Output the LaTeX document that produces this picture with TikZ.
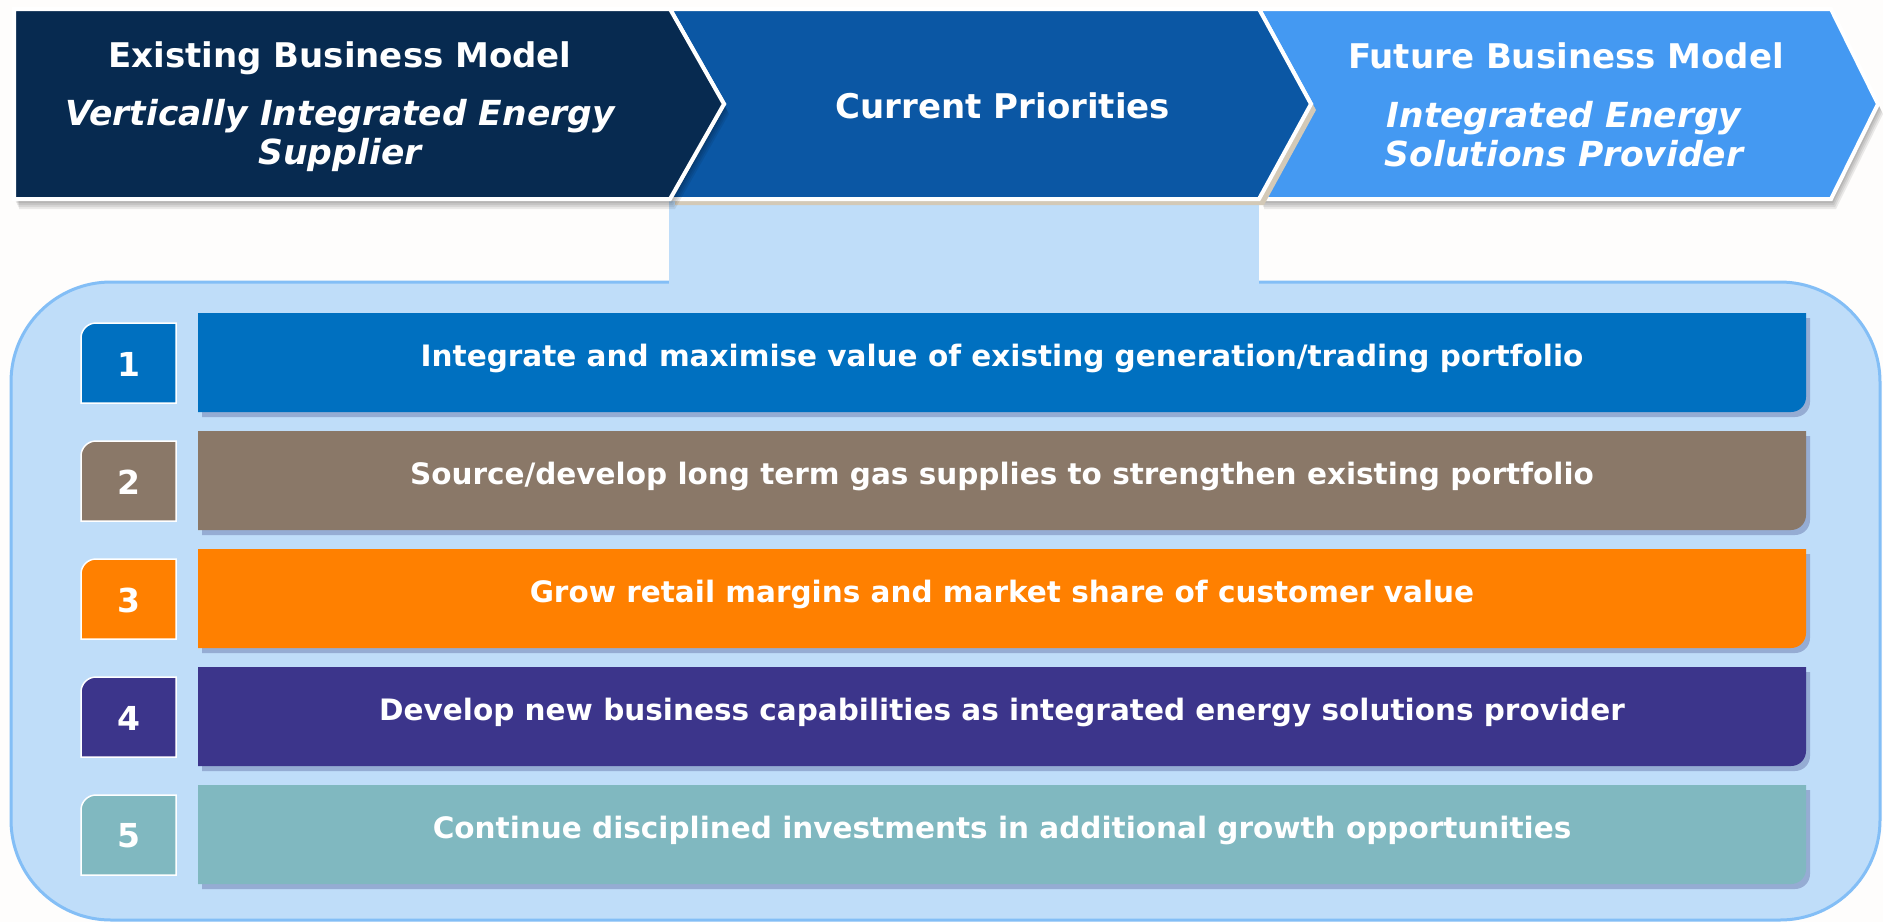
\documentclass[tikz,border=0pt]{standalone}
\usepackage{fontspec}
\setmainfont{DejaVu Sans}
\usetikzlibrary{shadows}

\definecolor{navy}{HTML}{072A50}
\definecolor{midblue}{HTML}{0B57A4}
\definecolor{skyblue}{HTML}{4499F2}
\definecolor{panel}{HTML}{BFDDF9}
\definecolor{panelline}{HTML}{83BEF6}
\definecolor{tanedge}{HTML}{D3C9B7}
\definecolor{pone}{HTML}{0070C0}
\definecolor{ptwo}{HTML}{8A7868}
\definecolor{pthree}{HTML}{FF8000}
\definecolor{pfour}{HTML}{3C358B}
\definecolor{pfive}{HTML}{80B8C0}
\definecolor{paper}{HTML}{FEFDFC}

\begin{document}
\begin{tikzpicture}[x=1pt, y=-1pt,
    chev/.style = {draw=white, line width=4pt},
    fade/.style = {fill=black, opacity=0.08},
    head/.style = {text=white, font=\bfseries\fontsize{34}{40}\selectfont},
    sub/.style = {text=white, align=center, font=\bfseries\itshape\fontsize{34.5}{39}\selectfont},
    bartext/.style = {text=white, font=\bfseries\fontsize{29.5}{34}\selectfont},
    numtext/.style = {text=white, font=\bfseries\fontsize{33}{40}\selectfont},
    barshadow/.style = {drop shadow={shadow xshift=4pt, shadow yshift=-5pt, fill=black!70!blue, opacity=0.22}}]

    \fill[paper] (0,0) rectangle (1883,922);
    \useasboundingbox (0,0) rectangle (1883,922);

    % panel and tab
    \draw[panelline, fill=panel, line width=3pt, rounded corners=100pt] (11,282) rectangle (1880,920);
    \fill[panel] (669,196) rectangle (1259,292);

    % chevron 3
    \foreach \d in {2,4,6,8,10}
        \fill[fade, shift={(\d/2,\d)}] (1259,9) -- (1831,9) -- (1878,104) -- (1831,199) -- (1259,199) -- cycle;
    \draw[chev, fill=skyblue] (1259,9) -- (1831,9) -- (1878,104) -- (1831,199) -- (1259,199) -- (1311,104) -- cycle;

    % chevron 2
    \fill[tanedge, shift={(5,6)}] (670,9) -- (1259,9) -- (1311,104) -- (1259,199) -- (670,199) -- cycle;
    \draw[chev, fill=midblue] (670,9) -- (1259,9) -- (1311,104) -- (1259,199) -- (670,199) -- (724,104) -- cycle;

    % chevron 1
    \foreach \d in {2,4,6,8,10}
        \fill[fade, shift={(\d/2,\d)}] (14,9) -- (670,9) -- (724,104) -- (670,199) -- (14,199) -- cycle;
    \draw[chev, fill=navy] (14,9) -- (670,9) -- (724,104) -- (670,199) -- (14,199) -- cycle;

    \node[head] (existing) at (340,58) {Existing Business Model};
    \node[sub] (vertical) at (340,135) {Vertically Integrated Energy\\Supplier};
    \node[head] (current) at (1003,106) {Current Priorities};
    \node[head] (future) at (1566,56) {Future Business Model};
    \node[sub] (solutions) at (1564,134) {Integrated Energy\\Solutions Provider};

    % priority rows
    \foreach \i/\c/\txt in {1/pone/{Integrate and maximise value of existing generation/trading portfolio},
                            2/ptwo/{Source/develop long term gas supplies to strengthen existing portfolio},
                            3/pthree/{Grow retail margins and market share of customer value},
                            4/pfour/{Develop new business capabilities as integrated energy solutions provider},
                            5/pfive/{Continue disciplined investments in additional growth opportunities}}
    {
        \pgfmathsetmacro{\y}{313+118*(\i-1)}
        \fill[\c, barshadow] (198,\y) -- (1806,\y) -- (1806,\y+84) arc (0:90:15) -- (198,\y+99) -- cycle;
        \draw[white, line width=1.5pt, fill=\c] (81,\y+90) -- (81,\y+25) arc (180:270:15) -- (176,\y+10) -- (176,\y+90) -- cycle;
        \node[bartext] (bar\i) at (1002,\y+45) {\txt};
        \node[numtext] (num\i) at (128.5,\y+51) {\i};
    }
\end{tikzpicture}
\end{document}
